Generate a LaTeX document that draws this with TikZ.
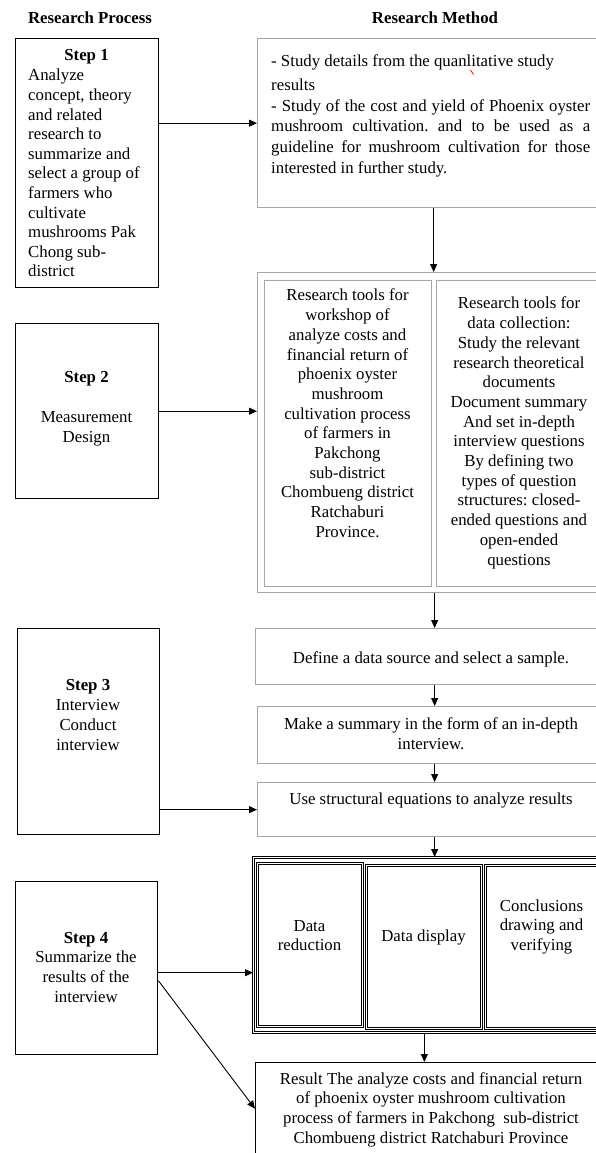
\documentclass[tikz,border=0pt]{standalone}
\usepackage{fontspec}
\setmainfont{Liberation Serif}
\usetikzlibrary{arrows.meta,calc}
\frenchspacing
\begin{document}
\begin{tikzpicture}[x=1pt,y=-1pt,
  bk/.style={draw=black,line width=1.4pt,inner sep=0pt,anchor=north west},
  gy/.style={draw=black!35,line width=1.3pt,inner sep=0pt,anchor=north west},
  dbl/.style={draw=black,line width=0.7pt,double=white,double distance=1pt,inner sep=0pt,anchor=north west},
  txt/.style={inner sep=0pt,anchor=north,align=center,font=\fontsize{16.8}{19.7}\selectfont},
  arr/.style={draw=black,line width=0.9pt,-{Triangle[length=8pt,width=7pt]}}]
\useasboundingbox (0,0) rectangle (595,1153);
\fill[white] (0,0) rectangle (595,1153);
% headers
\node[txt,font=\fontsize{16.8}{19.7}\selectfont\bfseries] (hP) at (90,9.3) {\strut Research Process};
\node[txt,font=\fontsize{16.8}{19.7}\selectfont\bfseries] (hM) at (435,9.3) {\strut Research Method};
% left column boxes
\node[bk,minimum width=143pt,minimum height=249pt] (s1) at (15,38) {};
\node[bk,minimum width=143pt,minimum height=175pt] (s2) at (15,323) {};
\node[bk,minimum width=142pt,minimum height=206pt] (s3) at (17,628) {};
\node[bk,minimum width=142pt,minimum height=173pt] (s4) at (15,881) {};
% right column boxes
\node[gy,minimum width=348pt,minimum height=169pt] (m1) at (257,38) {};
\node[gy,minimum width=352pt,minimum height=320pt] (m2) at (257,272) {};
\node[gy,minimum width=167pt,minimum height=306pt] (m2a) at (264,280) {};
\node[gy,minimum width=166pt,minimum height=306pt] (m2b) at (436,280) {};
\node[gy,minimum width=352pt,minimum height=56pt] (m3a) at (255,628) {};
\node[gy,minimum width=350pt,minimum height=57pt] (m3b) at (257,706) {};
\node[gy,minimum width=350pt,minimum height=54pt] (m3c) at (257,782) {};
\node[dbl,minimum width=348pt,minimum height=175pt] (m4) at (253,857) {};
\node[dbl,minimum width=105pt,minimum height=163pt] (m4a) at (257,863) {};
\node[dbl,minimum width=115pt,minimum height=163pt] (m4b) at (366,865) {};
\node[dbl,minimum width=113pt,minimum height=163pt] (m4c) at (485,865) {};
\node[bk,minimum width=352pt,minimum height=103pt] (res) at (255,1062) {};
% left texts
\node[txt,font=\fontsize{16.8}{19.7}\selectfont\bfseries] (s1h) at (86.5,47) {\strut Step 1};
\node[txt,anchor=north west,align=left,font=\fontsize{16.8}{19.6}\selectfont] (s1b) at (28,67) {\strut Analyze\\concept, theory\\and related\\research to\\summarize and\\select a group of\\farmers who\\cultivate\\mushrooms Pak\\Chong sub-\\district};
\node[txt] (s2t) at (86.5,369) {\strut\textbf{Step 2}\\[19.7pt]Measurement\\Design};
\node[txt] (s3t) at (88,677) {\strut\textbf{Step 3}\\Interview\\Conduct\\interview};
\node[txt] (s4t) at (86,929) {\strut\textbf{Step 4}\\Summarize the\\results of the\\interview};
% right texts
\node[txt,anchor=north west,align=left,font=\fontsize{16.8}{20.6}\selectfont] (m1t) at (271,52) {\strut - Study details from the quanlitative study\\[3.4pt]results\\\makebox[319pt][s]{- Study of the cost and yield of Phoenix oyster}\\\makebox[319pt][s]{mushroom cultivation. and to be used as a}\\\makebox[319pt][s]{guideline for mushroom cultivation for those}\\interested in further study.};
\draw[red,line width=0.8pt] (470.5,70) -- (473.5,74.5);
\node[txt] (m2at) at (347.5,287) {\strut Research tools for\\workshop of\\analyze costs and\\financial return of\\phoenix oyster\\mushroom\\cultivation process\\of farmers in\\Pakchong\\sub-district\\Chombueng district\\Ratchaburi\\Province.};
\node[txt] (m2bt) at (519,295) {\strut Research tools for\\data collection:\\Study the relevant\\research theoretical\\documents\\Document summary\\And set in-depth\\interview questions\\By defining two\\types of question\\structures: closed-\\ended questions and\\open-ended\\questions};
\node[txt] (m3at) at (431,650) {\strut Define a data source and select a sample.};
\node[txt] (m3bt) at (431,716) {\strut Make a summary in the form of an in-depth\\interview.};
\node[txt] (m3ct) at (431,790) {\strut Use structural equations to analyze results};
\node[txt] (m4at) at (309.5,917) {\strut Data\\reduction};
\node[txt] (m4bt) at (423.5,927) {\strut Data display};
\node[txt] (m4ct) at (541.5,897) {\strut Conclusions\\drawing and\\verifying};
\node[txt] (rest) at (431,1070) {\strut Result The analyze costs and financial return\\of phoenix oyster mushroom cultivation\\process of farmers in Pakchong\ \ sub-district\\Chombueng district Ratchaburi Province};
% connectors
\draw[arr] (s1.east |- m1.west) -- (m1.west);
\draw[arr] (s2.east) -- (s2.east -| m2.west);
\draw[arr] (m2.north |- m1.south) -- (m2.north);
\draw[arr] ([xshift=1pt]m2.south) -- ([xshift=1pt]m2.south |- m3a.north);
\draw[arr] ([xshift=1pt]m2.south |- m3a.south) -- ([xshift=1pt]m2.south |- m3b.north);
\draw[arr] ([xshift=1pt]m2.south |- m3b.south) -- ([xshift=1pt]m2.south |- m3c.north);
\draw[arr] (s3.east |- m3c.west) -- (m3c.west);
\draw[arr] ([xshift=1pt]m2.south |- m3c.south) -- ([xshift=1pt]m2.south |- m4.north);
\draw[arr] ([yshift=-4.5pt]s4.east) -- ([yshift=-4.5pt]s4.east -| m4.west);
\draw[arr] ([yshift=-12.5pt]s4.east) -- ([yshift=5.5pt]res.west);
\draw[arr] ([xshift=-3pt]m4.south) -- ([xshift=-3pt]m4.south |- res.north);
\end{tikzpicture}
\end{document}
